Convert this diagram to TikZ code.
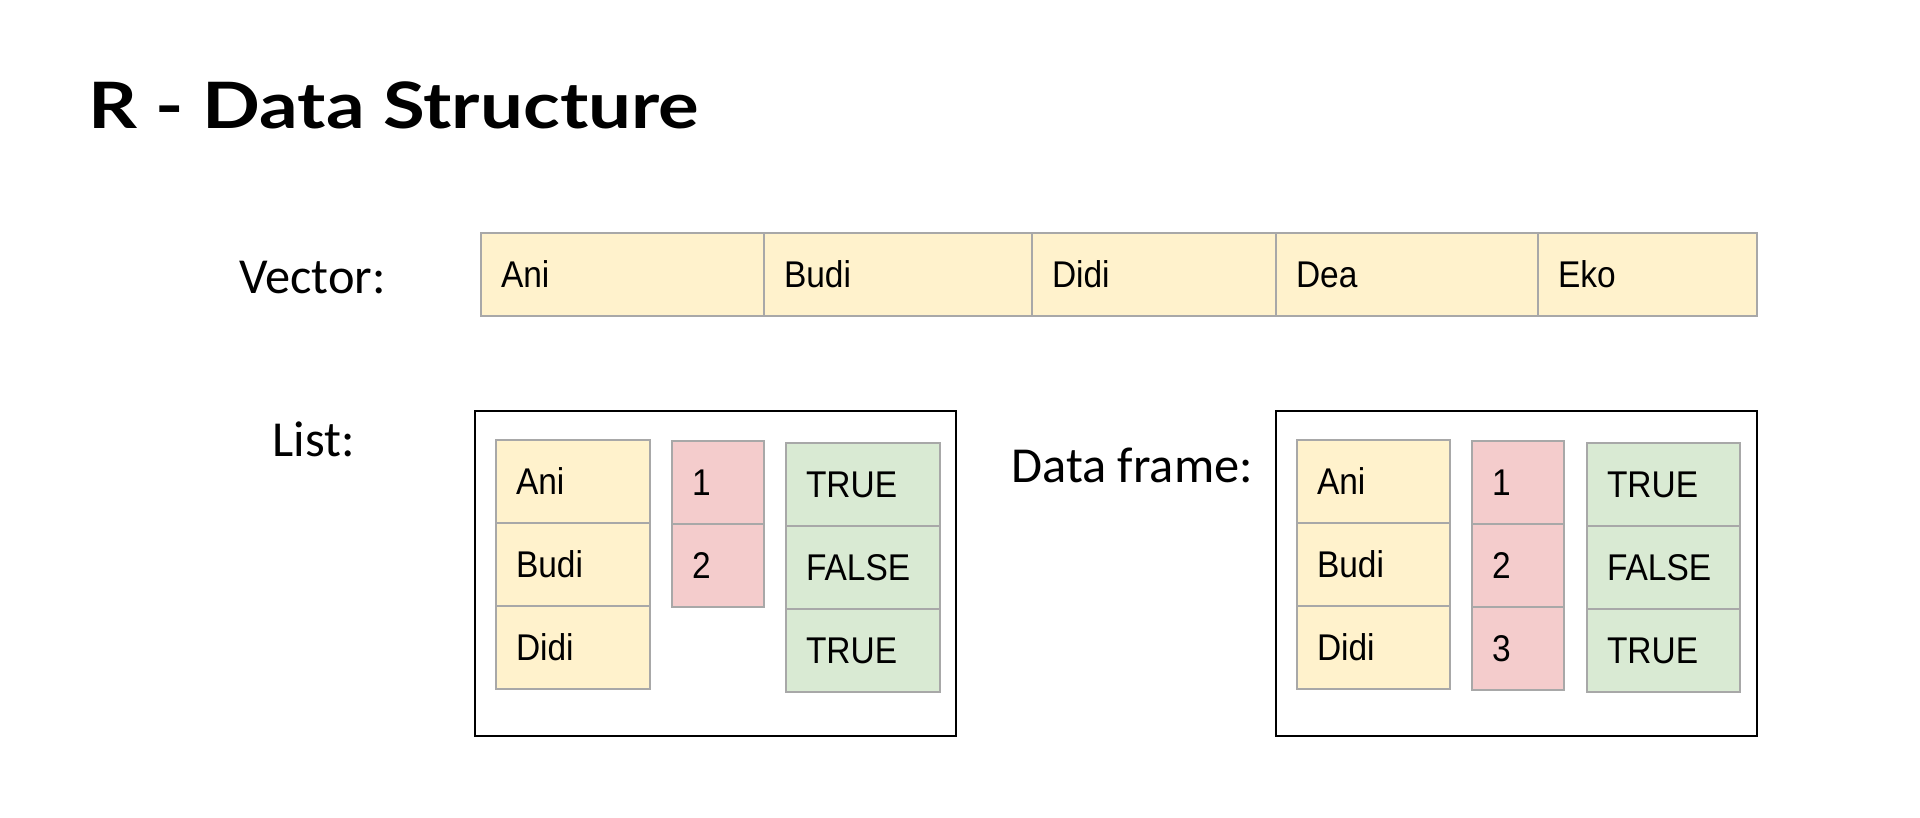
\documentclass[tikz,border=0pt]{standalone}
\usepackage{fontspec}
\setmainfont{Liberation Sans}
\newfontfamily\titlefont[FakeStretch=1.19]{Lato}
\newfontfamily\labelfont{Carlito}
\newfontfamily\cellfont[FakeStretch=0.9]{Liberation Sans}
\definecolor{cyellow}{HTML}{FFF2CC}
\definecolor{cpink}{HTML}{F4CCCC}
\definecolor{cgreen}{HTML}{D9EAD3}
\definecolor{cborder}{HTML}{A8A8A8}
\tikzset{
  cellstyle/.style={draw=cborder, line width=1pt, inner xsep=10pt, inner ysep=0pt,
    align=left, font=\cellfont\fontsize{18.6}{20}\selectfont, text height=13.4pt, text depth=0pt},
  lbl/.style={font=\labelfont\fontsize{25.2}{28}\selectfont, inner sep=0pt},
  outerbox/.style={draw=black, line width=1pt, fill=none}
}
\newcommand\cellbox[7]{%
  \pgfmathsetmacro\cw{(#4-#2)*0.5}%
  \pgfmathsetmacro\ch{(#5-#3)*0.5}%
  \pgfmathsetmacro\tw{\cw-20}%
  \node[cellstyle, fill=#6, minimum width=\cw pt, minimum height=\ch pt, text width=\tw pt]
    (#1) at ({(#2+#4)/2},{(#3+#5)/2}) {#7};%
}
\begin{document}
\begin{tikzpicture}[x=0.5pt,y=-0.5pt]
\useasboundingbox[fill=white] (0,0) rectangle (1920,818);
% title
\node[anchor=base west, inner sep=0pt, font=\titlefont\bfseries\fontsize{32}{36}\selectfont] (title) at (88,129) {R - Data Structure};
% labels
\node[lbl, anchor=west] (lvec) at (239,278) {Vector:};
\node[lbl, anchor=west] (llist) at (272,439) {List:};
\node[lbl, anchor=west] (ldf) at (1011,465) {Data frame:};
% vector
\cellbox{v1}{481}{233}{764}{316}{cyellow}{Ani}
\cellbox{v2}{764}{233}{1032}{316}{cyellow}{Budi}
\cellbox{v3}{1032}{233}{1276}{316}{cyellow}{Didi}
\cellbox{v4}{1276}{233}{1538}{316}{cyellow}{Dea}
\cellbox{v5}{1538}{233}{1757}{316}{cyellow}{Eko}
% list
\node[outerbox, minimum width=240.5pt, minimum height=162.5pt, inner sep=0pt] (listbox) at (715.5,573.5) {};
\cellbox{la1}{496}{440}{650}{523}{cyellow}{Ani}
\cellbox{la2}{496}{523}{650}{606}{cyellow}{Budi}
\cellbox{la3}{496}{606}{650}{689}{cyellow}{Didi}
\cellbox{lb1}{672}{441}{764}{524}{cpink}{1}
\cellbox{lb2}{672}{524}{764}{607}{cpink}{2}
\cellbox{lc1}{786}{443}{940}{526}{cgreen}{TRUE}
\cellbox{lc2}{786}{526}{940}{609}{cgreen}{FALSE}
\cellbox{lc3}{786}{609}{940}{692}{cgreen}{TRUE}
% data frame
\node[outerbox, minimum width=240.5pt, minimum height=162.5pt, inner sep=0pt] (dfbox) at (1516.5,573.5) {};
\cellbox{da1}{1297}{440}{1450}{523}{cyellow}{Ani}
\cellbox{da2}{1297}{523}{1450}{606}{cyellow}{Budi}
\cellbox{da3}{1297}{606}{1450}{689}{cyellow}{Didi}
\cellbox{db1}{1472}{441}{1564}{524}{cpink}{1}
\cellbox{db2}{1472}{524}{1564}{607}{cpink}{2}
\cellbox{db3}{1472}{607}{1564}{690}{cpink}{3}
\cellbox{dc1}{1587}{443}{1740}{526}{cgreen}{TRUE}
\cellbox{dc2}{1587}{526}{1740}{609}{cgreen}{FALSE}
\cellbox{dc3}{1587}{609}{1740}{692}{cgreen}{TRUE}
\end{tikzpicture}
\end{document}
